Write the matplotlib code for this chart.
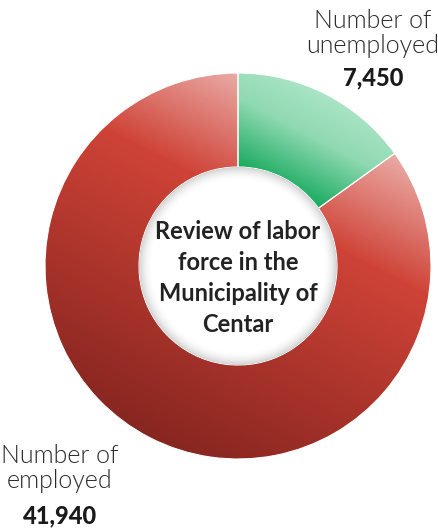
import numpy as np
import matplotlib
matplotlib.use("Agg")
import matplotlib.pyplot as plt
from matplotlib.colors import LinearSegmentedColormap

# labour force of the Municipality of Centar
categories = ["unemployed", "employed"]
values = [7450, 41940]
center_lines = ["Review of labor", "force in the", "Municipality of", "Centar"]

# gradient stops per slice (light -> dark)
slice_colors = [
    ["#aae4c6", "#8fd9b1", "#19aa5f"],
    ["#eaaaa5", "#cf4337", "#872620"],
]
stop_pos = [[0, 0.42, 1], [0, 0.3, 1]]

W, H = 439, 528
fig = plt.figure(figsize=(W / 100, H / 100), dpi=100)
ax = fig.add_axes([0, 0, 1, 1])

cx, cy = 238, H - 266
R, r = 193, 99

wedges, _ = ax.pie(values, radius=R, center=(cx, cy), startangle=90,
                   counterclock=False,
                   wedgeprops=dict(width=R - r, facecolor="none",
                                   edgecolor="white", linewidth=0.8, zorder=3))
ax.set_xlim(0, W)
ax.set_ylim(0, H)
ax.set_aspect("equal")
ax.axis("off")

# pixel grid for the gradient fills
ys, xs = np.mgrid[0:H, 0:W] + 0.5
pts = np.column_stack([xs.ravel(), ys.ravel()])
# linear gradient running from upper right to lower left
proj = -0.46 * xs + 0.89 * (H - ys)

for w, cols, pos in zip(wedges, slice_colors, stop_pos):
    mask = w.get_path().contains_points(pts).reshape(H, W)
    lo, hi = proj[mask].min(), proj[mask].max()
    t = np.clip((proj - lo) / (hi - lo), 0, 1)
    cmap = LinearSegmentedColormap.from_list("g", list(zip(pos, cols)))
    img = ax.imshow(cmap(t), origin="lower", extent=(0, W, 0, H),
                    interpolation="bilinear", zorder=2)
    img.set_clip_path(w)

# white hole with a soft inner shadow
d = np.hypot(xs - cx, ys - cy)
a = np.clip((d - (r - 14)) / 14, 0, 1) ** 2 * 0.28
shade = np.zeros((H, W, 4))
shade[..., :3] = 0.35
shade[..., 3] = np.where(d <= r, a, 0)
hole = plt.Circle((cx, cy), r, facecolor="white", edgecolor="none", zorder=4)
ax.add_patch(hole)
sh = ax.imshow(shade, origin="lower", extent=(0, W, 0, H),
               interpolation="bilinear", zorder=5)
sh.set_clip_path(hole)

for i, line in enumerate(center_lines):
    ax.text(cx, H - (239 + 31 * i), line, ha="center", va="baseline",
            fontsize=17, fontweight="bold", family="Lato", color="#222222",
            zorder=6)

# slice annotations
label_pos = [(373, [28, 53, 85]), (60, [463, 488, 523])]
for cat, v, (x, base) in zip(categories, values, label_pos):
    ax.text(x, H - base[0], "Number of", ha="center", va="baseline",
            fontsize=18, fontweight=300, family="Lato", color="#2a2a2a")
    ax.text(x, H - base[1], cat, ha="center", va="baseline",
            fontsize=18, fontweight=300, family="Lato", color="#2a2a2a")
    ax.text(x, H - base[2], f"{v:,}", ha="center", va="baseline",
            fontsize=17, fontweight=900, family="Lato", color="#1a1a1a")

fig.savefig("out.png", dpi=100)
